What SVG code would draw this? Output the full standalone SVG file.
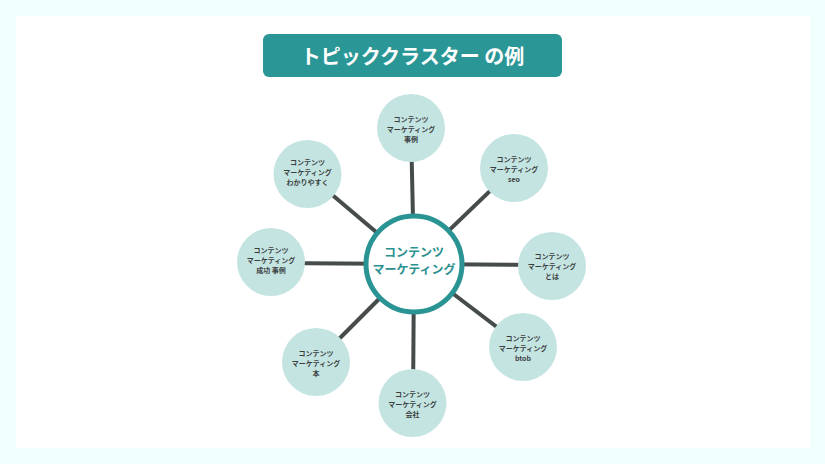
<svg xmlns="http://www.w3.org/2000/svg" width="825" height="464" viewBox="0 0 825 464">
<style>
text{font-family:"Noto Sans CJK JP","Noto Sans",sans-serif;font-weight:bold;text-anchor:middle}
.sat{fill:#C4E4E2}
.st{font-size:7px;fill:#3B3F3F}
.ct{font-size:12px;fill:#2A9090}
.ln{stroke:#464C4C;stroke-width:4;stroke-linecap:butt}
</style>
<rect x="0" y="0" width="825" height="464" fill="#F0FEFE"/>
<rect x="16" y="16" width="794" height="432" fill="#FFFFFF"/>
<g id="title">
<rect x="263" y="34" width="299" height="43" rx="6" fill="#2A9696"/>
<text x="412.5" y="63.5" style="font-size:20px;fill:#FFFFFF">トピッククラスター の例</text>
</g>
<g id="connectors">
<line class="ln" x1="414" y1="264" x2="411" y2="128"/>
<line class="ln" x1="414" y1="264" x2="514" y2="168"/>
<line class="ln" x1="414" y1="264" x2="307.5" y2="174"/>
<line class="ln" x1="414" y1="264" x2="271" y2="263"/>
<line class="ln" x1="414" y1="264" x2="552" y2="265"/>
<line class="ln" x1="414" y1="264" x2="318" y2="360"/>
<line class="ln" x1="414" y1="264" x2="413" y2="403"/>
<line class="ln" x1="414" y1="264" x2="523" y2="347"/>
</g>
<g id="center">
<circle cx="414" cy="264" r="48" fill="#FFFFFF" stroke="#2A9393" stroke-width="5"/>
<text class="ct" x="414" y="257">コンテンツ</text>
<text class="ct" x="414" y="274">マーケティング</text>
</g>
<g id="n-jirei">
<circle class="sat" cx="411" cy="128" r="34"/>
<text class="st" x="411" y="122">コンテンツ</text>
<text class="st" x="411" y="132">マーケティング</text>
<text class="st" x="411" y="142">事例</text>
</g>
<g id="n-seo">
<circle class="sat" cx="514" cy="168" r="34"/>
<text class="st" x="514" y="162">コンテンツ</text>
<text class="st" x="514" y="172">マーケティング</text>
<text class="st" x="514" y="182">seo</text>
</g>
<g id="n-wakari">
<circle class="sat" cx="307.5" cy="174" r="34"/>
<text class="st" x="307.5" y="165">コンテンツ</text>
<text class="st" x="307.5" y="175">マーケティング</text>
<text class="st" x="307.5" y="185">わかりやすく</text>
</g>
<g id="n-seiko">
<circle class="sat" cx="271" cy="262" r="34"/>
<text class="st" x="271" y="253">コンテンツ</text>
<text class="st" x="271" y="263">マーケティング</text>
<text class="st" x="271" y="273">成功 事例</text>
</g>
<g id="n-towa">
<circle class="sat" cx="552" cy="266" r="34"/>
<text class="st" x="552" y="259">コンテンツ</text>
<text class="st" x="552" y="269">マーケティング</text>
<text class="st" x="552" y="279">とは</text>
</g>
<g id="n-hon">
<circle class="sat" cx="316" cy="362" r="34"/>
<text class="st" x="316" y="356">コンテンツ</text>
<text class="st" x="316" y="366">マーケティング</text>
<text class="st" x="316" y="376">本</text>
</g>
<g id="n-kaisha">
<circle class="sat" cx="412.5" cy="403" r="34"/>
<text class="st" x="412.5" y="397">コンテンツ</text>
<text class="st" x="412.5" y="407">マーケティング</text>
<text class="st" x="412.5" y="417">会社</text>
</g>
<g id="n-btob">
<circle class="sat" cx="523" cy="347" r="34"/>
<text class="st" x="523" y="341">コンテンツ</text>
<text class="st" x="523" y="351">マーケティング</text>
<text class="st" x="523" y="361">btob</text>
</g>
</svg>
